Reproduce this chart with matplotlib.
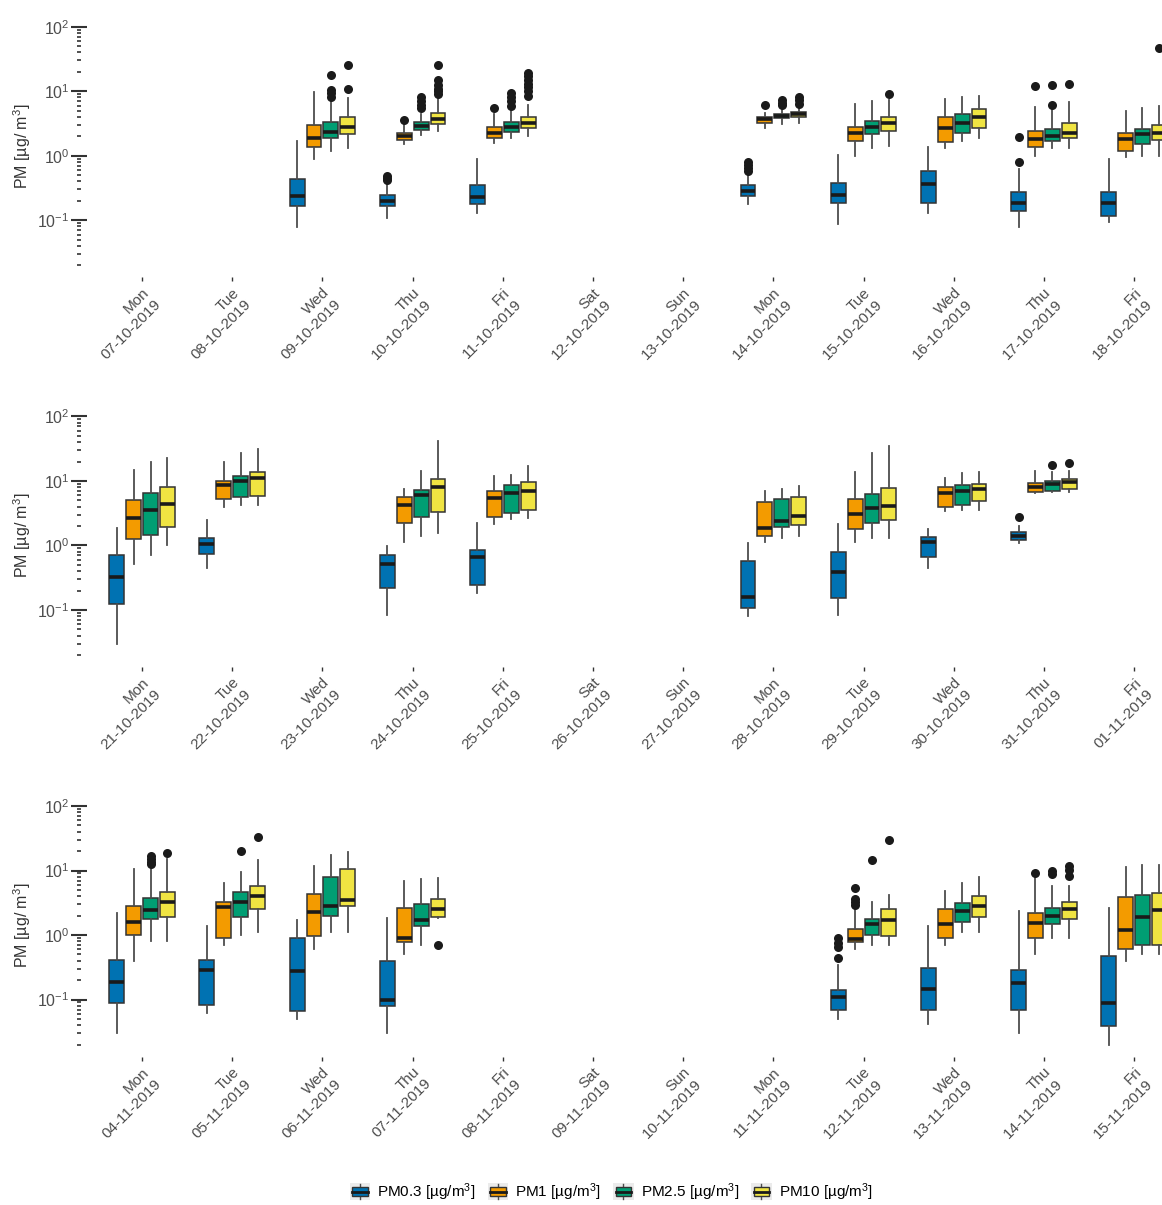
import matplotlib
matplotlib.use('Agg')
import matplotlib.pyplot as plt
from matplotlib.patches import Patch, Rectangle
from matplotlib.lines import Line2D
from matplotlib.legend_handler import HandlerBase
from matplotlib.ticker import FixedLocator, NullFormatter

plt.rcParams['font.family'] = ['Liberation Sans', 'DejaVu Sans']
plt.rcParams['mathtext.default'] = 'regular'

# labels
weekdays = ['Mon', 'Tue', 'Wed', 'Thu', 'Fri', 'Sat', 'Sun', 'Mon', 'Tue', 'Wed', 'Thu', 'Fri']
dates1 = ['07-10-2019', '08-10-2019', '09-10-2019', '10-10-2019', '11-10-2019', '12-10-2019',
          '13-10-2019', '14-10-2019', '15-10-2019', '16-10-2019', '17-10-2019', '18-10-2019']
dates2 = ['21-10-2019', '22-10-2019', '23-10-2019', '24-10-2019', '25-10-2019', '26-10-2019',
          '27-10-2019', '28-10-2019', '29-10-2019', '30-10-2019', '31-10-2019', '01-11-2019']
dates3 = ['04-11-2019', '05-11-2019', '06-11-2019', '07-11-2019', '08-11-2019', '09-11-2019',
          '10-11-2019', '11-11-2019', '12-11-2019', '13-11-2019', '14-11-2019', '15-11-2019']

series_names = ['PM0.3 [µg/m$^3$]', 'PM1 [µg/m$^3$]', 'PM2.5 [µg/m$^3$]', 'PM10 [µg/m$^3$]']
colors = ['#0072B2', '#F39B00', '#009E73', '#F0E442']

# box stats per day index: (whisker low, q1, median, q3, whisker high)
# week 1
w1_pm03 = {2: (0.079, 0.166, 0.237, 0.435, 1.69), 3: (0.11, 0.166, 0.20, 0.25, 0.39),
           4: (0.13, 0.176, 0.226, 0.35, 0.88), 7: (0.18, 0.237, 0.286, 0.347, 0.50),
           8: (0.088, 0.187, 0.245, 0.38, 1.02), 9: (0.13, 0.183, 0.364, 0.58, 1.38),
           10: (0.079, 0.139, 0.183, 0.27, 0.615), 11: (0.093, 0.117, 0.183, 0.27, 0.88)}
w1_pm03_out = {3: [0.42, 0.45, 0.48], 7: [0.58, 0.65, 0.72, 0.8], 10: [0.79, 1.97]}
w1_pm1 = {2: (0.89, 1.38, 1.9, 2.99, 9.6), 3: (1.5, 1.75, 2.02, 2.27, 3.0),
          4: (1.59, 1.86, 2.22, 2.8, 4.5), 7: (2.72, 3.25, 3.66, 3.94, 4.6),
          8: (1.0, 1.69, 2.27, 2.8, 6.3), 9: (1.32, 1.65, 2.69, 3.94, 7.65),
          10: (0.99, 1.38, 1.8, 2.4, 5.6), 11: (0.96, 1.19, 1.8, 2.22, 4.95)}
w1_pm1_out = {3: [3.58], 4: [5.55], 7: [6.1], 10: [12.2]}
w1_pm25 = {2: (1.2, 1.88, 2.36, 3.3, 7.65), 3: (2.1, 2.5, 2.88, 3.37, 4.5),
           4: (1.9, 2.36, 2.8, 3.33, 5.1), 7: (3.1, 3.8, 4.1, 4.37, 5.2),
           8: (1.32, 2.17, 2.8, 3.5, 7.1), 9: (1.69, 2.27, 3.18, 4.37, 8.05),
           10: (1.32, 1.69, 2.02, 2.63, 5.1), 11: (0.99, 1.51, 2.15, 2.63, 5.4)}
w1_pm25_out = {2: [18, 10.5, 9.3, 8.2], 3: [8.0, 7.0, 6.2, 5.5], 4: [9.4, 8.2, 7.0, 6.0],
               7: [7.2, 6.6, 6.1], 10: [6.1, 12.5]}
w1_pm10 = {2: (1.3, 2.15, 2.82, 4.0, 7.8), 3: (2.4, 3.07, 3.7, 4.6, 7.5),
           4: (2.0, 2.72, 3.25, 3.94, 6.1), 7: (3.25, 3.94, 4.37, 4.7, 5.6),
           8: (1.41, 2.44, 3.18, 4.0, 7.3), 9: (1.9, 2.72, 3.94, 5.3, 8.3),
           10: (1.32, 1.86, 2.27, 3.2, 6.9), 11: (1.0, 1.75, 2.27, 3.0, 5.8)}
w1_pm10_out = {2: [25.8, 10.7], 3: [25.8, 15, 12.5, 11, 10, 9], 4: [19, 17, 15, 13, 11.5, 10, 8.5],
               7: [8.2, 7.2, 6.4], 8: [9.1], 10: [12.8], 11: [47]}

# week 2
w2_pm03 = {0: (0.030, 0.122, 0.32, 0.71, 1.84), 1: (0.44, 0.73, 1.05, 1.29, 2.48),
           3: (0.082, 0.217, 0.52, 0.71, 0.99), 4: (0.18, 0.244, 0.655, 0.85, 2.2),
           7: (0.081, 0.109, 0.161, 0.58, 1.1), 8: (0.082, 0.152, 0.384, 0.8, 2.12),
           9: (0.45, 0.65, 1.12, 1.34, 1.8), 10: (1.08, 1.22, 1.42, 1.64, 2.0)}
w2_pm03_out = {10: [2.73]}
w2_pm1 = {0: (0.51, 1.24, 2.7, 5.06, 14.8), 1: (4.0, 5.25, 8.6, 10.0, 19.9),
          3: (1.12, 2.25, 4.3, 5.7, 7.4), 4: (2.12, 2.8, 5.5, 6.97, 12.0),
          7: (1.12, 1.4, 1.89, 4.65, 7.06), 8: (1.12, 1.8, 3.03, 5.2, 13.6),
          9: (3.42, 3.9, 6.6, 7.95, 11.2), 10: (6.4, 6.8, 8.15, 9.4, 14.2)}
w2_pm1_out = {}
w2_pm25 = {0: (0.71, 1.45, 3.54, 6.4, 19.4), 1: (4.2, 5.6, 10.1, 11.9, 26.7),
           3: (1.42, 2.8, 6.05, 7.2, 14.4), 4: (2.54, 3.15, 6.4, 8.6, 12.3),
           7: (1.32, 1.9, 2.42, 5.25, 7.5), 8: (1.32, 2.2, 3.76, 6.2, 27.4),
           9: (3.54, 4.24, 7.06, 8.6, 13.1), 10: (6.8, 7.06, 8.85, 10.1, 13.9)}
w2_pm25_out = {10: [17.6]}
w2_pm10 = {0: (1.02, 1.91, 4.39, 7.95, 22.4), 1: (4.3, 5.8, 11.0, 13.6, 30.8),
           3: (1.54, 3.33, 7.95, 10.7, 41.5), 4: (2.7, 3.54, 7.06, 9.7, 17.2),
           7: (1.42, 2.07, 2.9, 5.7, 8.4), 8: (1.32, 2.48, 4.13, 7.7, 35.2),
           9: (3.54, 4.9, 7.5, 8.95, 13.6), 10: (6.8, 7.5, 9.7, 10.7, 14.5)}
w2_pm10_out = {10: [19.2]}

# week 3
w3_pm03 = {0: (0.030, 0.089, 0.19, 0.41, 2.18), 1: (0.061, 0.081, 0.288, 0.41, 1.36),
           2: (0.05, 0.067, 0.275, 0.89, 1.68), 3: (0.030, 0.079, 0.099, 0.39, 1.83),
           8: (0.05, 0.069, 0.111, 0.141, 0.337), 9: (0.041, 0.069, 0.143, 0.31, 1.36),
           10: (0.03, 0.069, 0.181, 0.29, 2.35), 11: (0.02, 0.039, 0.089, 0.47, 2.61)}
w3_pm03_out = {8: [0.89, 0.75, 0.65, 0.44]}
w3_pm1 = {0: (0.40, 1.0, 1.62, 2.77, 10.4), 1: (0.71, 0.91, 2.7, 3.24, 6.45),
          2: (0.61, 0.98, 2.26, 4.36, 11.7), 3: (0.5, 0.79, 0.89, 2.61, 6.85),
          8: (0.61, 0.79, 0.87, 1.22, 2.4), 9: (0.7, 0.89, 1.46, 2.55, 4.9),
          10: (0.5, 0.89, 1.55, 2.21, 7.6), 11: (0.40, 0.6, 1.2, 3.87, 11.3)}
w3_pm1_out = {8: [5.4, 3.6, 3.2, 2.9], 10: [9.2]}
w3_pm25 = {0: (0.82, 1.78, 2.4, 3.73, 10.6), 1: (1.0, 1.89, 3.24, 4.63, 9.46),
           2: (1.1, 1.96, 2.77, 7.9, 17.1), 3: (0.70, 1.36, 1.72, 3.05, 7.45),
           8: (0.7, 1.0, 1.46, 1.78, 3.24), 9: (1.1, 1.62, 2.32, 3.16, 6.45),
           10: (0.91, 1.49, 2.0, 2.64, 5.66), 11: (0.5, 0.69, 1.89, 4.2, 12.3)}
w3_pm25_out = {0: [16.5, 15, 13.5, 12.5], 1: [20], 8: [14.4], 10: [10.0, 8.7]}
w3_pm10 = {0: (0.82, 1.89, 3.24, 4.63, 15.2), 1: (1.1, 2.55, 4.0, 5.66, 14.4),
           2: (1.1, 2.77, 3.52, 10.4, 19.3), 3: (1.85, 1.89, 2.55, 3.56, 7.6),
           8: (0.7, 0.98, 1.68, 2.49, 4.2), 9: (1.1, 1.89, 2.77, 3.96, 7.9),
           10: (0.91, 1.78, 2.55, 3.24, 5.66), 11: (0.5, 0.7, 2.4, 4.47, 12.3)}
w3_pm10_out = {0: [18.5], 1: [33], 3: [0.69], 8: [29.3], 10: [11.6, 10.2, 8.1]}

panels = [
    (dates1, [(w1_pm03, w1_pm03_out), (w1_pm1, w1_pm1_out), (w1_pm25, w1_pm25_out), (w1_pm10, w1_pm10_out)]),
    (dates2, [(w2_pm03, w2_pm03_out), (w2_pm1, w2_pm1_out), (w2_pm25, w2_pm25_out), (w2_pm10, w2_pm10_out)]),
    (dates3, [(w3_pm03, w3_pm03_out), (w3_pm1, w3_pm1_out), (w3_pm25, w3_pm25_out), (w3_pm10, w3_pm10_out)]),
]

offsets = [-0.28125, -0.09375, 0.09375, 0.28125]
W, H = 1162, 1205
left = 79 / W
panel_h = 262.5 / H
bottoms = [1 - 277.3 / H, 1 - 667.0 / H, 1 - 1056.6 / H]

fig = plt.figure(figsize=(W / 100, H / 100), dpi=100)

for p, (dates, series) in enumerate(panels):
    ax = fig.add_axes([left, bottoms[p], 1 - left, panel_h])
    ax.set_yscale('log')
    for s, (boxes, outs) in enumerate(series):
        stats = []
        pos = []
        for k, (lo, q1, med, q3, hi) in boxes.items():
            stats.append(dict(whislo=lo, q1=q1, med=med, q3=q3, whishi=hi,
                              fliers=outs.get(k, [])))
            pos.append(k + offsets[s])
        ax.bxp(stats, positions=pos, widths=0.165, patch_artist=True, showcaps=False,
               manage_ticks=False,
               boxprops=dict(facecolor=colors[s], edgecolor='#333333', linewidth=1.1),
               medianprops=dict(color='#1a1a1a', linewidth=2.6, solid_capstyle='butt'),
               whiskerprops=dict(color='#4d4d4d', linewidth=1.3),
               flierprops=dict(marker='o', markerfacecolor='#1a1a1a', markeredgecolor='none',
                               markersize=6.5))
    ax.set_xlim(-0.7, 11.31)
    ax.set_ylim(0.01303, 153.1)
    ax.yaxis.set_major_locator(FixedLocator([0.1, 1, 10, 100]))
    ax.set_yticklabels(['$10^{-1}$', '$10^{0}$', '$10^{1}$', '$10^{2}$'])
    ax.yaxis.set_minor_locator(FixedLocator([m * 10.0 ** e for e in (-2, -1, 0, 1) for m in range(2, 10)]))
    ax.yaxis.set_minor_formatter(NullFormatter())
    ax.tick_params(axis='y', which='major', direction='inout', length=11.5, width=1.5,
                   color='#333333', labelsize=11.5, labelcolor='#4d4d4d', pad=1)
    ax.tick_params(axis='y', which='minor', direction='inout', length=3, width=1.2, color='#333333')
    ax.set_xticks(range(12))
    ax.set_xticklabels([w + '\n' + d for w, d in zip(weekdays, dates)], rotation=45, ha='right',
                       va='top', rotation_mode='anchor', multialignment='right')
    ax.tick_params(axis='x', length=3, width=1, color='#333333', labelsize=11,
                   labelcolor='#4d4d4d', pad=3)
    for sp in ax.spines.values():
        sp.set_visible(False)
    ax.patch.set_visible(False)
    fig.text(22 / W, bottoms[p] + panel_h / 2, 'PM [µg/ m$^3$]', rotation=90, ha='center',
             va='center', fontsize=11.5, color='#333333')


class BoxKey(HandlerBase):
    def create_artists(self, legend, orig_handle, xdescent, ydescent, width, height, fontsize, trans):
        x0, y0 = -xdescent, -ydescent
        bg = Rectangle((x0, y0), width, height, facecolor='#ebebeb', edgecolor='none', transform=trans)
        whisk = Line2D([x0 + width / 2] * 2, [y0 + height * 0.08, y0 + height * 0.92],
                       color='#4d4d4d', lw=1, transform=trans)
        box = Rectangle((x0 + width * 0.12, y0 + height * 0.25), width * 0.76, height * 0.5,
                        facecolor=orig_handle.get_facecolor(), edgecolor='#333333', lw=1,
                        transform=trans)
        med = Line2D([x0 + width * 0.12, x0 + width * 0.88], [y0 + height / 2] * 2,
                     color='#1a1a1a', lw=2, transform=trans)
        return [bg, whisk, box, med]


handles = [Patch(facecolor=c) for c in colors]
fig.legend(handles, series_names, loc='center', bbox_to_anchor=(0.526, 1 - 1192 / H), ncol=4,
           frameon=False, handler_map={Patch: BoxKey()}, fontsize=11, handlelength=1.35,
           handleheight=1.35, handletextpad=0.45, columnspacing=0.8)

fig.savefig('out.png', dpi=100)
